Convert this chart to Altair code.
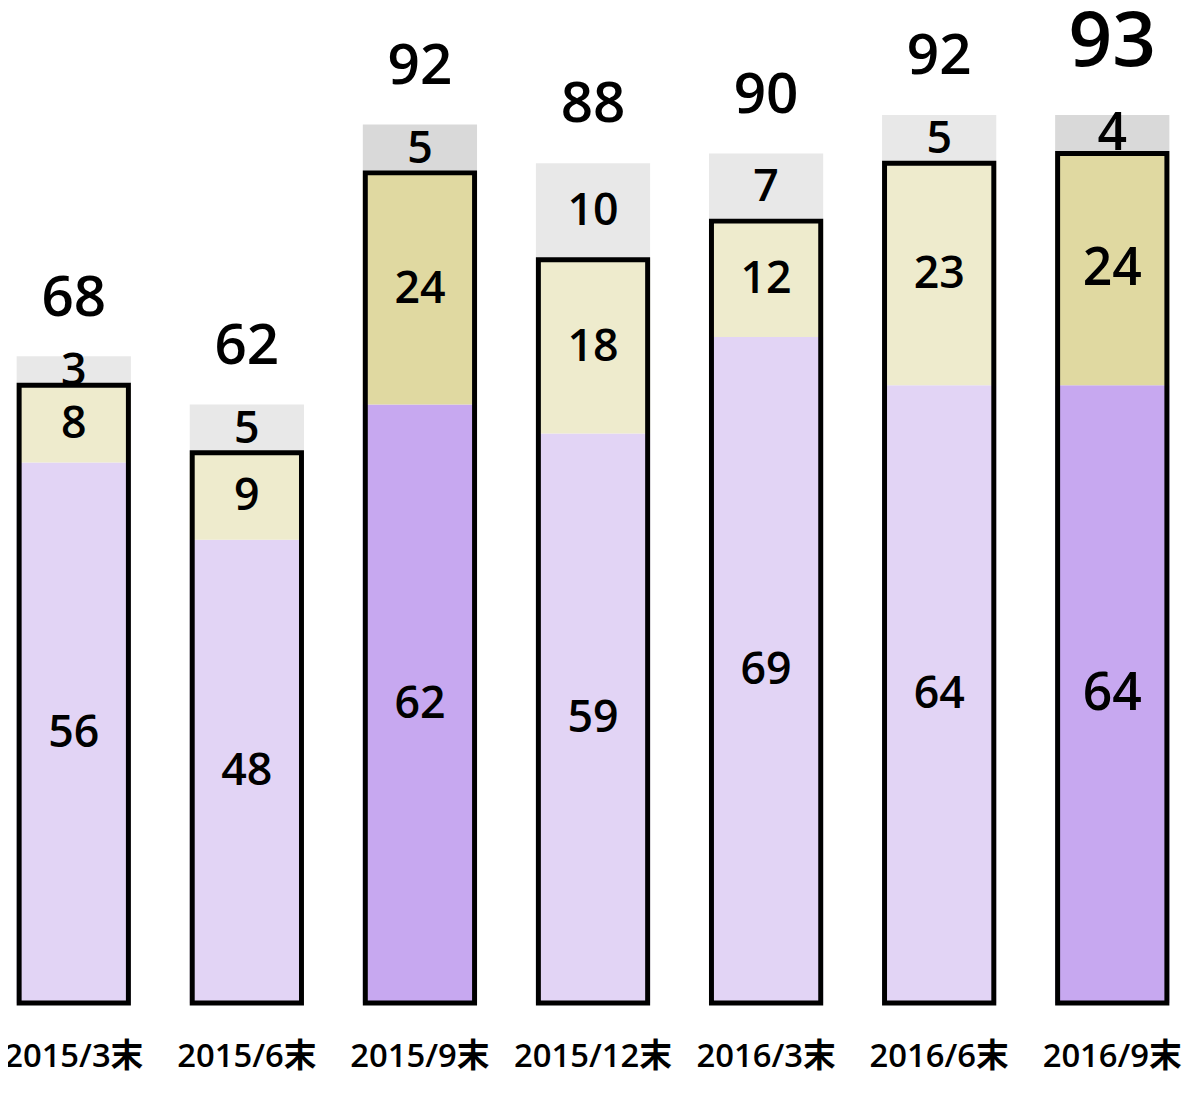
import altair as alt
import pandas as pd

categories = ["2015/3末", "2015/6末", "2015/9末", "2015/12末", "2016/3末", "2016/6末", "2016/9末"]
purple = [56, 48, 62, 59, 69, 64, 64]
beige = [8, 9, 24, 18, 12, 23, 24]
gray = [3, 5, 5, 10, 7, 5, 4]
totals = [68, 62, 92, 88, 90, 92, 93]
highlight = [False, False, True, False, False, False, True]
latest = categories[-1]

FONT = "Open Sans, Noto Sans CJK JP"
LIGHT = {"purple": "#E2D4F5", "beige": "#EEEBCD", "gray": "#E8E8E8"}
DARK = {"purple": "#C7A8F0", "beige": "#E0D9A1", "gray": "#D9D9D9"}

rows = []
for i, c in enumerate(categories):
    for order, (seg, vals) in enumerate([("purple", purple), ("beige", beige), ("gray", gray)]):
        pal = DARK if highlight[i] else LIGHT
        rows.append({"cat": c, "seg": seg, "ord": order, "value": vals[i],
                     "color": pal[seg], "total": totals[i]})
df = pd.DataFrame(rows)

x = alt.X("cat:N", sort=categories,
          scale=alt.Scale(paddingInner=0.34, paddingOuter=0.05, round=False),
          axis=alt.Axis(title=None, labelAngle=0, domain=False, ticks=False,
                        labelFontSize=33, labelFont=FONT, labelColor="black",
                        labelFontWeight=600,
                        labelPadding=38, labelBaseline="top"))
yscale = alt.Scale(domain=[0, 102.7], nice=False, zero=True)

base = alt.Chart(df).transform_stack(
    stack="value", groupby=["cat"], as_=["y0", "y1"],
    sort=[alt.SortField("ord", order="ascending")]
).transform_calculate(
    mid="(datum.y0 + datum.y1) / 2",
    fs=f"datum.cat == '{latest}' ? 52 : 45"
)

bars = base.mark_bar(width=115).encode(
    x=x,
    y=alt.Y("y0:Q", scale=yscale, axis=None),
    y2="y1:Q",
    color=alt.Color("color:N", scale=None),
)

outline = base.transform_filter("datum.seg != 'gray'").transform_aggregate(
    top="max(y1)", groupby=["cat"]
).transform_calculate(zero="0").mark_bar(
    width=110, fill=None, fillOpacity=0, stroke="black", strokeWidth=5
).encode(
    x=x,
    y=alt.Y("zero:Q", scale=yscale, axis=None),
    y2="top:Q",
)

seg_text = base.mark_text(font=FONT, baseline="middle", align="center",
                          color="black", fontWeight=600).encode(
    x=x,
    y=alt.Y("mid:Q", scale=yscale, axis=None),
    text=alt.Text("value:Q"),
    size=alt.Size("fs:Q", scale=None),
)

tops = base.transform_aggregate(
    top="max(y1)", total="max(total)", groupby=["cat"]
)

total_text = tops.transform_filter(f"datum.cat != '{latest}'").mark_text(
    font=FONT, baseline="alphabetic", align="center", color="black",
    fontSize=57, dy=-41, fontWeight=600
).encode(
    x=x,
    y=alt.Y("top:Q", scale=yscale, axis=None),
    text=alt.Text("total:Q"),
)

total_last = tops.transform_filter(f"datum.cat == '{latest}'").mark_text(
    font=FONT, baseline="alphabetic", align="center", color="black",
    fontSize=77, dy=-49, fontWeight=600
).encode(
    x=x,
    y=alt.Y("top:Q", scale=yscale, axis=None),
    text=alt.Text("total:Q"),
)

chart = alt.layer(bars, outline, seg_text, total_text, total_last).properties(
    width=1178, height=998,
    autosize=alt.AutoSizeParams(type="none"),
    padding={"left": 0, "top": 0, "right": 4, "bottom": 90},
).configure_view(stroke=None)

chart.save("out.html", embed_options={"renderer": "svg", "actions": False})
